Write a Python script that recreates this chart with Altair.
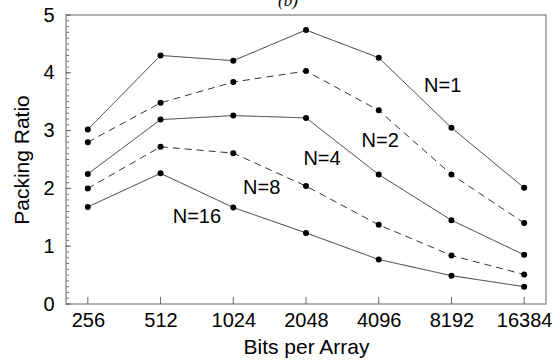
import altair as alt
import pandas as pd
import numpy as np

bits = [256, 512, 1024, 2048, 4096, 8192, 16384]
series_names = ["N=1", "N=2", "N=4", "N=8", "N=16"]
n1 = [3.02, 4.30, 4.21, 4.74, 4.26, 3.05, 2.01]
n2 = [2.80, 3.48, 3.84, 4.03, 3.35, 2.24, 1.40]
n4 = [2.25, 3.19, 3.26, 3.22, 2.24, 1.45, 0.85]
n8 = [2.00, 2.72, 2.61, 2.04, 1.37, 0.84, 0.51]
n16 = [1.68, 2.26, 1.67, 1.23, 0.77, 0.49, 0.30]
dash_styles = ["solid", "dashed", "solid", "dashed", "solid"]

label_text = ["N=1", "N=2", "N=4", "N=8", "N=16"]
label_bits_log2 = [12.88, 12.02, 11.22, 10.39, 9.50]
label_ratio = [3.78, 2.82, 2.51, 2.00, 1.50]

y_major = [0, 1, 2, 3, 4, 5]
y_minor = [round(v, 1) for v in np.arange(0, 5.01, 0.1)]

rows = []
for name, vals, d in zip(series_names, [n1, n2, n4, n8, n16], dash_styles):
    for b, v in zip(bits, vals):
        rows.append({"bits": b, "lb": float(np.log2(b)), "ratio": v, "series": name, "dash": d})
df = pd.DataFrame(rows)

lab_df = pd.DataFrame({"text": label_text, "lb": label_bits_log2, "ratio": label_ratio})
xt_df = pd.DataFrame({"lb": [float(np.log2(b)) for b in bits]})
ymin_df = pd.DataFrame({"ratio": y_minor})
ymaj_df = pd.DataFrame({"ratio": y_major})

W, H = 480, 289
FONT = "Liberation Sans"

xscale = alt.Scale(domain=[7.7, 14.3], nice=False, zero=False)
yscale = alt.Scale(domain=[0, 5], nice=False)

xaxis = alt.Axis(values=[float(np.log2(b)) for b in bits],
                 labelExpr="format(pow(2, datum.value), 'd')",
                 ticks=False, grid=False, domain=False,
                 labelFont=FONT, labelFontSize=20, labelColor="black", labelPadding=6,
                 title="Bits per Array", titleFont=FONT, titleFontSize=21,
                 titleFontWeight="normal", titleColor="black", titlePadding=6)
yaxis = alt.Axis(values=y_major, format="d", ticks=False, grid=False, domain=False,
                 labelFont=FONT, labelFontSize=20, labelColor="black", labelPadding=12,
                 title="Packing Ratio", titleFont=FONT, titleFontSize=21,
                 titleFontWeight="normal", titleColor="black", titlePadding=10)

base = alt.Chart(df)

lines = base.mark_line(color="#333333", strokeWidth=1).encode(
    x=alt.X("lb:Q", scale=xscale, axis=xaxis),
    y=alt.Y("ratio:Q", scale=yscale, axis=yaxis),
    detail="series:N",
    strokeDash=alt.StrokeDash("dash:N", scale=alt.Scale(domain=["solid", "dashed"],
                                                         range=[[1, 0], [7, 5]]), legend=None),
)

points = base.mark_circle(color="black", opacity=1, size=36).encode(
    x=alt.X("lb:Q", scale=xscale),
    y=alt.Y("ratio:Q", scale=yscale),
)

labels = alt.Chart(lab_df).mark_text(font=FONT, fontSize=20, color="black").encode(
    x=alt.X("lb:Q", scale=xscale),
    y=alt.Y("ratio:Q", scale=yscale),
    text="text:N",
)

xticks = alt.Chart(xt_df).mark_rule(color="#666666", strokeWidth=1).encode(
    x=alt.X("lb:Q", scale=xscale),
    y=alt.value(H),
    y2=alt.value(H - 7),
)

yminor = alt.Chart(ymin_df).mark_rule(color="#777777", strokeWidth=1).encode(
    y=alt.Y("ratio:Q", scale=yscale),
    x=alt.value(0),
    x2=alt.value(3),
)
ymajor = alt.Chart(ymaj_df).mark_rule(color="#666666", strokeWidth=1).encode(
    y=alt.Y("ratio:Q", scale=yscale),
    x=alt.value(0),
    x2=alt.value(5),
)

title = alt.Chart(pd.DataFrame({"t": ["(b)"]})).mark_text(
    font="Liberation Serif", fontSize=17, fontStyle="italic", color="black",
    baseline="alphabetic", align="center"
).encode(x=alt.value(222), y=alt.value(-9), text="t:N")

chart = alt.layer(yminor, ymajor, xticks, lines, points, labels, title).properties(
    width=W, height=H,
    autosize=alt.AutoSizeParams(type="none"),
    padding={"left": 66, "top": 15, "right": 8, "bottom": 60},
    background="white",
).configure_view(stroke="#999999", strokeWidth=1.5)

chart.save("out.html", embed_options={"renderer": "svg", "actions": False})
